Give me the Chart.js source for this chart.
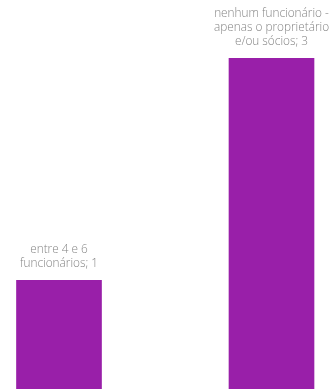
<!DOCTYPE html>
<html>
<head>
<meta charset="utf-8">
<script src="https://cdn.jsdelivr.net/npm/chart.js@4"></script>
<style>
  html, body { margin: 0; padding: 0; background: #fff; }
  #wrap { width: 333px; height: 389px; }
</style>
</head>
<body>
<div id="wrap"><canvas id="chart" width="333" height="389"></canvas></div>
<script>
// Data
const categories = [
    ['entre 4 e 6', 'funcionários'],
    ['nenhum funcionário -', 'apenas o proprietário', 'e/ou sócios']
];
const counts = [1, 3];

// Labels above the bars: "category; value"
const barLabels = {
    id: 'barLabels',
    afterDatasetsDraw(chart) {
        const ctx = chart.ctx;
        const meta = chart.getDatasetMeta(0);
        ctx.save();
        ctx.font = '300 11.8px "Open Sans"';
        ctx.fillStyle = '#858585';
        ctx.textAlign = 'center';
        ctx.textBaseline = 'middle';
        meta.data.forEach((bar, i) => {
            const lines = categories[i].slice();
            lines[lines.length - 1] += '; ' + counts[i];
            const lh = 14;
            const lastY = bar.y - 17;
            lines.forEach((line, j) => {
                ctx.fillText(line, bar.x, lastY - (lines.length - 1 - j) * lh);
            });
        });
        ctx.restore();
    }
};

new Chart(document.getElementById('chart'), {
    type: 'bar',
    data: {
        labels: categories.map(c => c.join(' ')),
        datasets: [{
            data: counts,
            backgroundColor: '#991fa9',
            borderWidth: 0,
            barThickness: 85,
            clip: false
        }]
    },
    options: {
        responsive: false,
        animation: false,
        layout: { padding: { left: 59, right: 61.5, top: 0, bottom: 0 } },
        plugins: {
            legend: { display: false },
            tooltip: { enabled: false }
        },
        scales: {
            x: { display: false, offset: false },
            y: { display: false, min: 0.02, max: 3.5245 }
        }
    },
    plugins: [barLabels]
});
</script>
</body>
</html>
